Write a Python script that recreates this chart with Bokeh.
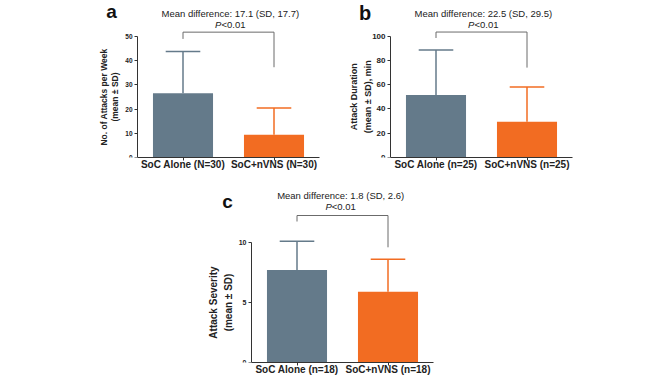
import math
from bokeh.plotting import figure
from bokeh.models import Range1d, Label, FixedTicker, Spacer, ColumnDataSource
from bokeh.layouts import row, column
from bokeh.embed import file_html
from bokeh.resources import INLINE

FONT = "Liberation Sans"
GRAY = "#647a8a"
ORANGE = "#f26c22"
BRACKET = "#6b6b6b"
AXIS = "#333333"
TXT = "#222222"
TEXT_SIZE = "9.5px"
XLABEL_SIZE = "10px"

# ---- data ----
cats_a = ["SoC Alone (N=30)", "SoC+nVNS (N=30)"]
mean_a = [26.6, 9.4]
sd_a = [17.2, 11.1]
bracket_a = [49.0, 51.8, 37.3]
diff_a = "Mean difference: 17.1 (SD, 17.7)"
yticks_a = [0, 10, 20, 30, 40, 50]
ylabel_a = "No. of Attacks per Week\n(mean \u00b1 SD)"

cats_b = ["SoC Alone (n=25)", "SoC+nVNS (n=25)"]
mean_b = [51.5, 29.5]
sd_b = [37.1, 28.5]
bracket_b = [98.4, 103.3, 74.0]
diff_b = "Mean difference: 22.5 (SD, 29.5)"
yticks_b = [0, 20, 40, 60, 80, 100]
ylabel_b = ["Attack Duration", "(mean \u00b1 SD), min"]

cats_c = ["SoC Alone (n=18)", "SoC+nVNS (n=18)"]
mean_c = [7.7, 5.9]
sd_c = [2.4, 2.7]
bracket_c = [11.75, 12.25, 9.6]
diff_c = "Mean difference: 1.8 (SD, 2.6)"
yticks_c = [0, 5, 10]
ylabel_c = "Attack Severity\n(mean \u00b1 SD)"

p_value = "<0.01"


def panel(cats, means, sds, bracket, diff, yticks, letter,
          x_start, y_end, diff_x, diff_y, p_y, letter_x, letter_y,
          width, height, bl, br, bt, bb, tick_size, letter_size):
    xs = [i + 1 for i in range(len(cats))]
    p = figure(x_range=Range1d(x_start, len(cats) + 0.5), y_range=Range1d(0, y_end),
               width=width, height=height, output_backend="svg",
               toolbar_location=None, min_border_left=bl, min_border_right=br,
               min_border_top=bt, min_border_bottom=bb)
    p.outline_line_color = None
    p.grid.visible = False

    ups = [m + s for m, s in zip(means, sds)]
    src = ColumnDataSource(dict(x=xs, top=means, up=ups,
                                cl=[x - 0.19 for x in xs], cr=[x + 0.19 for x in xs],
                                color=[GRAY, ORANGE]))
    p.segment(x0="x", y0="top", x1="x", y1="up", line_color="color",
              line_width=1.5, source=src)
    p.segment(x0="cl", y0="up", x1="cr", y1="up", line_color="color",
              line_width=1.5, source=src)
    p.vbar(x="x", top="top", width=0.66, fill_color="color",
           line_color=None, source=src)

    p.line(x=[xs[0], xs[0], xs[1], xs[1]],
           y=[bracket[0], bracket[1], bracket[1], bracket[2]],
           line_color=BRACKET, line_width=1)

    # axes
    xa, ya = p.xaxis[0], p.yaxis[0]
    ya.fixed_location = 0.5
    ya.bounds = (yticks[0], yticks[-1])
    ya.ticker = FixedTicker(ticks=yticks)
    ya.minor_tick_line_color = None
    xa.bounds = (0.5, len(cats) + 0.5)
    xa.ticker = FixedTicker(ticks=xs)
    xa.major_label_overrides = {x: c for x, c in zip(xs, cats)}
    xa.minor_tick_line_color = None
    for ax in (xa, ya):
        ax.axis_line_color = AXIS
        ax.axis_line_width = 1
        ax.major_tick_line_color = AXIS
        ax.major_tick_in = 0
        ax.major_tick_out = 3
        ax.major_label_text_font = FONT
        ax.major_label_text_font_style = "bold"
        ax.major_label_text_color = TXT
    ya.major_label_text_font_size = tick_size
    ya.major_label_standoff = 2
    xa.major_label_text_font_size = XLABEL_SIZE
    xa.major_label_standoff = -2

    # annotations
    p.add_layout(Label(x=diff_x, y=diff_y, text=diff, text_font=FONT,
                       text_font_size=TEXT_SIZE, text_align="center",
                       text_baseline="middle", text_color=TXT))
    p.add_layout(Label(x=diff_x, y=p_y, x_offset=-8.9, text="P", text_font=FONT,
                       text_font_size=TEXT_SIZE, text_font_style="italic",
                       text_align="right", text_baseline="middle",
                       text_color=TXT))
    p.add_layout(Label(x=diff_x, y=p_y, x_offset=-8.9, text=p_value, text_font=FONT,
                       text_font_size=TEXT_SIZE, text_align="left",
                       text_baseline="middle", text_color=TXT))
    p.add_layout(Label(x=letter_x, y=letter_y, text=letter, text_font=FONT,
                       text_font_size=letter_size, text_font_style="bold",
                       text_align="center", text_baseline="middle",
                       text_color="#111111"))
    return p


# panel a: frame x 95..319 (y-axis at 137), y 0..157
pa = panel(cats_a, mean_a, sd_a, bracket_a, diff_a, yticks_a, "a",
           x_start=0.5 - 42 / 91, y_end=157 / 2.42, diff_x=1.52, diff_y=59.5,
           p_y=55.0, letter_x=0.214, letter_y=60.2,
           width=325, height=182, bl=95, br=6, bt=0, bb=25,
           tick_size="6.5px", letter_size="19px")
ya = pa.yaxis[0]
ya.axis_label = ylabel_a
ya.axis_label_text_font = FONT
ya.axis_label_text_font_style = "bold"
ya.axis_label_text_font_size = "8.5px"
ya.axis_label_text_color = TXT
ya.axis_label_text_line_height = 1.15
ya.axis_label_standoff = 2

# panel b: frame x 345..572 (y-axis at 390), y 0..159
pb = panel(cats_b, mean_b, sd_b, bracket_b, diff_b, yticks_b, "b",
           x_start=0.5 - 45 / 91, y_end=159 / 1.23, diff_x=1.52, diff_y=118.7,
           p_y=109.8, letter_x=0.22, letter_y=118.8,
           width=267, height=182, bl=20, br=20, bt=0, bb=23,
           tick_size="8px", letter_size="20px")
for txt, xpos in zip(ylabel_b, [0.5 - 36.5 / 91, 0.5 - 23 / 91]):
    pb.add_layout(Label(x=xpos, y=50, text=txt, angle=math.pi / 2,
                        text_font=FONT, text_font_style="bold",
                        text_font_size="9px", text_align="center",
                        text_baseline="middle", text_color=TXT))

# panel c: frame x 200..433 (y-axis at 251), y 186..362
pc = panel(cats_c, mean_c, sd_c, bracket_c, diff_c, yticks_c, "c",
           x_start=0.5 - 51 / 91, y_end=176 / 12.0, diff_x=1.48, diff_y=13.92,
           p_y=13.0, letter_x=0.236, letter_y=13.38,
           width=293, height=198, bl=50, br=10, bt=4, bb=18,
           tick_size="7px", letter_size="19px")
yc = pc.yaxis[0]
yc.axis_label = ylabel_c
yc.axis_label_text_font = FONT
yc.axis_label_text_font_style = "bold"
yc.axis_label_text_font_size = "10px"
yc.axis_label_text_color = TXT
yc.axis_label_text_line_height = 1.3
yc.axis_label_standoff = 2

layout = column(row(pa, pb), row(Spacer(width=150, height=198), pc))

with open("out.html", "w") as f:
    f.write(file_html(layout, INLINE))
